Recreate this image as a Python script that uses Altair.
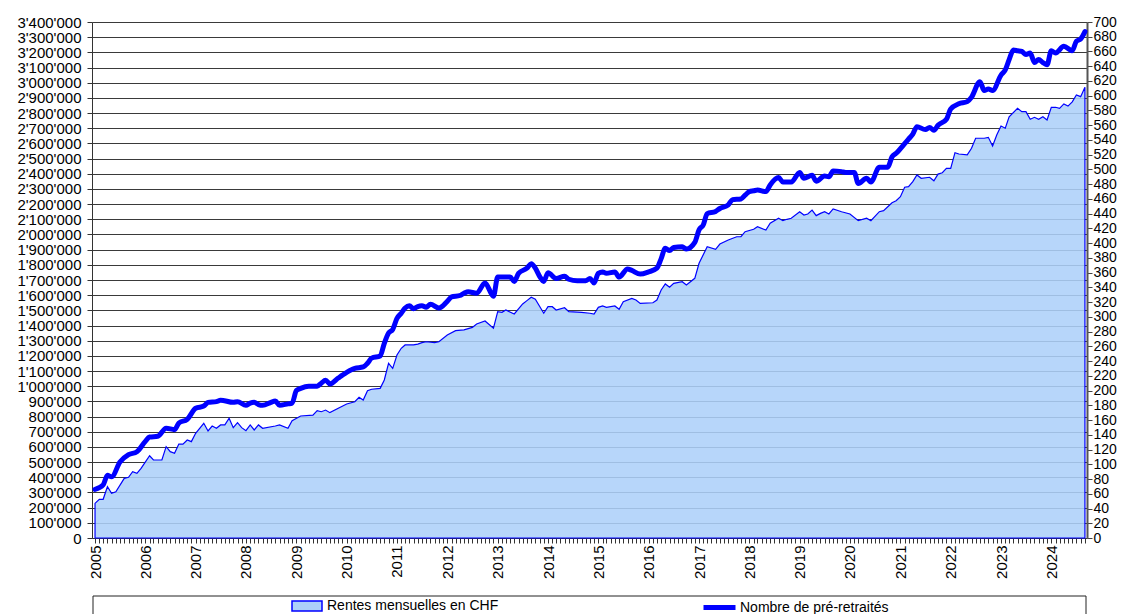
import altair as alt
import pandas as pd

rentes_label = "Rentes mensuelles en CHF"
count_label = "Nombre de pré-retraités"

# month offsets counted from January 2005 (0 = 2005-01)
rentes_months = [0, 1, 2, 3, 4, 5, 7, 8, 9, 10, 11, 13, 14, 16, 17, 18, 19, 20, 21, 22, 23, 24, 26, 27, 28, 29, 30, 31, 32, 33, 34, 35, 36, 37, 38, 39, 40, 43, 44, 46, 47, 49, 52, 53, 54, 55, 56, 58, 60, 62, 63, 64, 65, 66, 68, 69, 70, 71, 72, 73, 74, 76, 77, 78, 79, 81, 82, 84, 86, 88, 90, 91, 93, 95, 96, 97, 98, 100, 102, 103, 104, 105, 107, 108, 109, 110, 112, 113, 116, 118, 119, 120, 121, 122, 124, 125, 126, 128, 129, 130, 133, 134, 135, 136, 137, 138, 140, 141, 143, 144, 146, 148, 149, 151, 153, 154, 155, 157, 158, 160, 161, 163, 164, 165, 166, 168, 169, 170, 171, 172, 173, 174, 175, 176, 178, 180, 182, 184, 185, 187, 188, 190, 191, 192, 193, 194, 195, 196, 197, 199, 200, 201, 202, 203, 204, 205, 206, 208, 209, 210, 212, 213, 214, 215, 216, 217, 218, 220, 221, 222, 223, 224, 225, 226, 227, 228, 229, 230, 231, 232, 233, 234, 235, 236]
# monthly pensions, thousand CHF
rentes_values_k = [228, 255, 255, 338, 294, 305, 393, 400, 437, 426, 459, 542, 514, 514, 602, 569, 558, 619, 619, 646, 635, 690, 756, 705, 738, 723, 745, 745, 789, 727, 760, 727, 707, 745, 712, 745, 723, 738, 745, 723, 773, 804, 810, 839, 832, 843, 826, 855, 883, 898, 927, 909, 970, 980, 986, 1041, 1151, 1118, 1206, 1250, 1272, 1272, 1278, 1287, 1293, 1287, 1293, 1338, 1366, 1371, 1388, 1410, 1430, 1382, 1491, 1487, 1502, 1476, 1542, 1564, 1586, 1573, 1481, 1524, 1524, 1502, 1517, 1491, 1487, 1481, 1476, 1520, 1529, 1520, 1529, 1507, 1557, 1579, 1568, 1546, 1550, 1568, 1634, 1674, 1652, 1678, 1689, 1667, 1711, 1810, 1919, 1902, 1937, 1964, 1985, 1985, 2018, 2034, 2051, 2029, 2074, 2107, 2091, 2100, 2107, 2150, 2128, 2135, 2161, 2124, 2139, 2150, 2135, 2168, 2150, 2135, 2091, 2107, 2091, 2150, 2157, 2209, 2222, 2249, 2311, 2315, 2348, 2392, 2370, 2377, 2354, 2398, 2407, 2436, 2436, 2539, 2530, 2524, 2568, 2634, 2634, 2640, 2583, 2655, 2715, 2700, 2776, 2831, 2809, 2809, 2759, 2772, 2759, 2776, 2754, 2838, 2838, 2831, 2860, 2846, 2874, 2919, 2908, 2970]

count_months = [0, 2, 3, 4, 6, 8, 10, 12, 13, 15, 17, 19, 20, 22, 24, 26, 27, 29, 30, 33, 34, 36, 37, 38, 39, 40, 42, 43, 44, 46, 47, 48, 49, 51, 53, 54, 55, 56, 58, 59, 61, 62, 64, 65, 66, 68, 69, 70, 71, 72, 73, 74, 75, 76, 77, 78, 79, 80, 82, 84, 85, 87, 88, 89, 91, 93, 95, 96, 97, 99, 100, 101, 103, 104, 105, 106, 107, 108, 110, 112, 113, 115, 117, 118, 119, 120, 121, 122, 124, 125, 127, 128, 130, 132, 134, 135, 136, 137, 138, 140, 141, 143, 144, 145, 146, 148, 149, 151, 152, 154, 155, 156, 157, 158, 160, 161, 163, 164, 166, 168, 169, 171, 172, 174, 175, 176, 178, 179, 181, 182, 184, 185, 187, 189, 190, 191, 193, 194, 195, 196, 198, 199, 200, 201, 203, 204, 206, 208, 209, 211, 212, 213, 214, 216, 217, 218, 219, 220, 221, 222, 223, 224, 225, 226, 227, 228, 229, 231, 233, 234, 235, 236]
count_values = [66, 72, 85, 83, 103, 113, 117, 131, 137, 138, 149, 147, 156, 161, 176, 179, 184, 185, 187, 184, 185, 180, 183, 184, 181, 180, 184, 186, 180, 182, 183, 200, 203, 206, 206, 210, 214, 209, 217, 221, 228, 230, 232, 237, 244, 247, 264, 278, 283, 298, 305, 312, 315, 311, 314, 315, 313, 317, 312, 321, 327, 329, 332, 334, 332, 346, 328, 354, 354, 354, 348, 359, 366, 372, 366, 355, 348, 360, 352, 355, 351, 349, 349, 352, 346, 359, 361, 359, 361, 354, 365, 363, 358, 361, 366, 379, 393, 390, 394, 395, 392, 401, 418, 425, 440, 443, 447, 452, 459, 460, 465, 470, 471, 472, 470, 479, 489, 483, 483, 496, 488, 492, 484, 491, 490, 498, 497, 496, 496, 481, 488, 483, 503, 503, 517, 522, 535, 541, 548, 558, 554, 557, 553, 560, 568, 582, 589, 592, 598, 619, 607, 609, 607, 628, 635, 649, 662, 661, 660, 656, 658, 645, 649, 645, 642, 661, 658, 667, 661, 674, 677, 687]

left_ticks = list(range(0, 3400001, 100000))
right_ticks = list(range(0, 701, 20))
n_month_ticks = 237


def month_date(i):
    return f"{2005 + i // 12}-{i % 12 + 1:02d}-01"


df_r = pd.DataFrame({
    "date": [month_date(i) for i in rentes_months],
    "value": [v * 1000 for v in rentes_values_k],
    "series": rentes_label,
})
df_c = pd.DataFrame({
    "date": [month_date(i) for i in count_months],
    "value": count_values,
    "series": count_label,
})

FONT = "Liberation Sans"
AREA_FILL = "#add0f9"
BLUE = "#0000ff"

x_ticks = [alt.DateTime(year=2005 + i // 12, month=i % 12 + 1, date=1, utc=True)
           for i in range(n_month_ticks)]

x_enc = alt.X(
    "date:T",
    title=None,
    scale=alt.Scale(
        type="utc",
        domain=[alt.DateTime(year=2004, month=12, date=10, utc=True),
                alt.DateTime(year=2024, month=9, date=16, utc=True)],
    ),
    axis=alt.Axis(
        values=x_ticks,
        labelExpr="utcmonth(datum.value) == 0 ? utcFormat(datum.value, '%Y') : ''",
        labelAngle=270, labelAlign="right", labelBaseline="middle",
        labelOverlap=False, labelBound=False, labelPadding=2,
        tickSize=5, tickColor="#333333", domainColor="#333333",
        grid=False, labelFont=FONT, labelFontSize=15, labelColor="black",
    ),
)

area = alt.Chart(df_r).mark_area(
    stroke=BLUE, strokeWidth=1.2, fillOpacity=0.88, interpolate="linear"
).encode(
    x=x_enc,
    y=alt.Y(
        "value:Q", title=None,
        scale=alt.Scale(domain=[0, 3400000], nice=False, zero=True),
        axis=alt.Axis(
            values=left_ticks,
            labelExpr="replace(format(datum.value, ','), regexp(',', 'g'), \"'\")",
            grid=True, gridColor="#3a3a3a", gridWidth=1,
            tickSize=5, tickColor="#333333", domainColor="#333333",
            labelFont=FONT, labelFontSize=15, labelColor="black", labelPadding=6,
            labelOverlap=False,
        ),
    ),
    fill=alt.Fill(
        "series:N",
        scale=alt.Scale(domain=[rentes_label], range=[AREA_FILL]),
        legend=alt.Legend(
            title=None, orient="none", legendX=199, legendY=568,
            symbolType="M-1,-0.33H1V0.33H-1Z", symbolSize=900,
            symbolStrokeColor=BLUE, symbolStrokeWidth=1.5, symbolOpacity=1,
            labelFont=FONT, labelFontSize=14, labelColor="black", labelOffset=4,
            labelLimit=400, padding=0,
        ),
    ),
)

line = alt.Chart(df_c).mark_line(
    strokeWidth=5, interpolate="monotone", strokeCap="round", strokeJoin="round"
).encode(
    x=x_enc,
    y=alt.Y(
        "value:Q", title=None,
        scale=alt.Scale(domain=[0, 700], nice=False, zero=True),
        axis=alt.Axis(
            orient="right", values=right_ticks, grid=False,
            tickSize=5, tickColor="#444444", domainColor="#555555", domainWidth=2,
            labelFont=FONT, labelFontSize=14, labelColor="black", labelPadding=1,
            labelOverlap=False, labelBound=False,
        ),
    ),
    stroke=alt.Stroke(
        "series:N",
        scale=alt.Scale(domain=[count_label], range=[BLUE]),
        legend=alt.Legend(
            title=None, orient="none", legendX=609, legendY=567,
            symbolType="stroke", symbolSize=1024, symbolStrokeWidth=5,
            labelFont=FONT, labelFontSize=14, labelColor="black", labelOffset=2,
            labelLimit=400, padding=0,
        ),
    ),
)

legend_box = alt.Chart(alt.Data(values=[{"box": 1}])).mark_rect(
    fillOpacity=0, stroke="#222222", strokeWidth=1
).encode(
    x=alt.value(1), x2=alt.value(994), y=alt.value(574), y2=alt.value(604)
)

chart = alt.layer(area, line, legend_box).resolve_scale(
    y="independent", fill="independent", stroke="independent"
).properties(
    width=995, height=516,
    padding={"left": 84, "top": 14, "right": 30, "bottom": 84},
    autosize=alt.AutoSizeParams(type="none"),
).configure_view(stroke=None).configure(background="white")

chart.save("out.html", embed_options={"renderer": "svg", "actions": False})
